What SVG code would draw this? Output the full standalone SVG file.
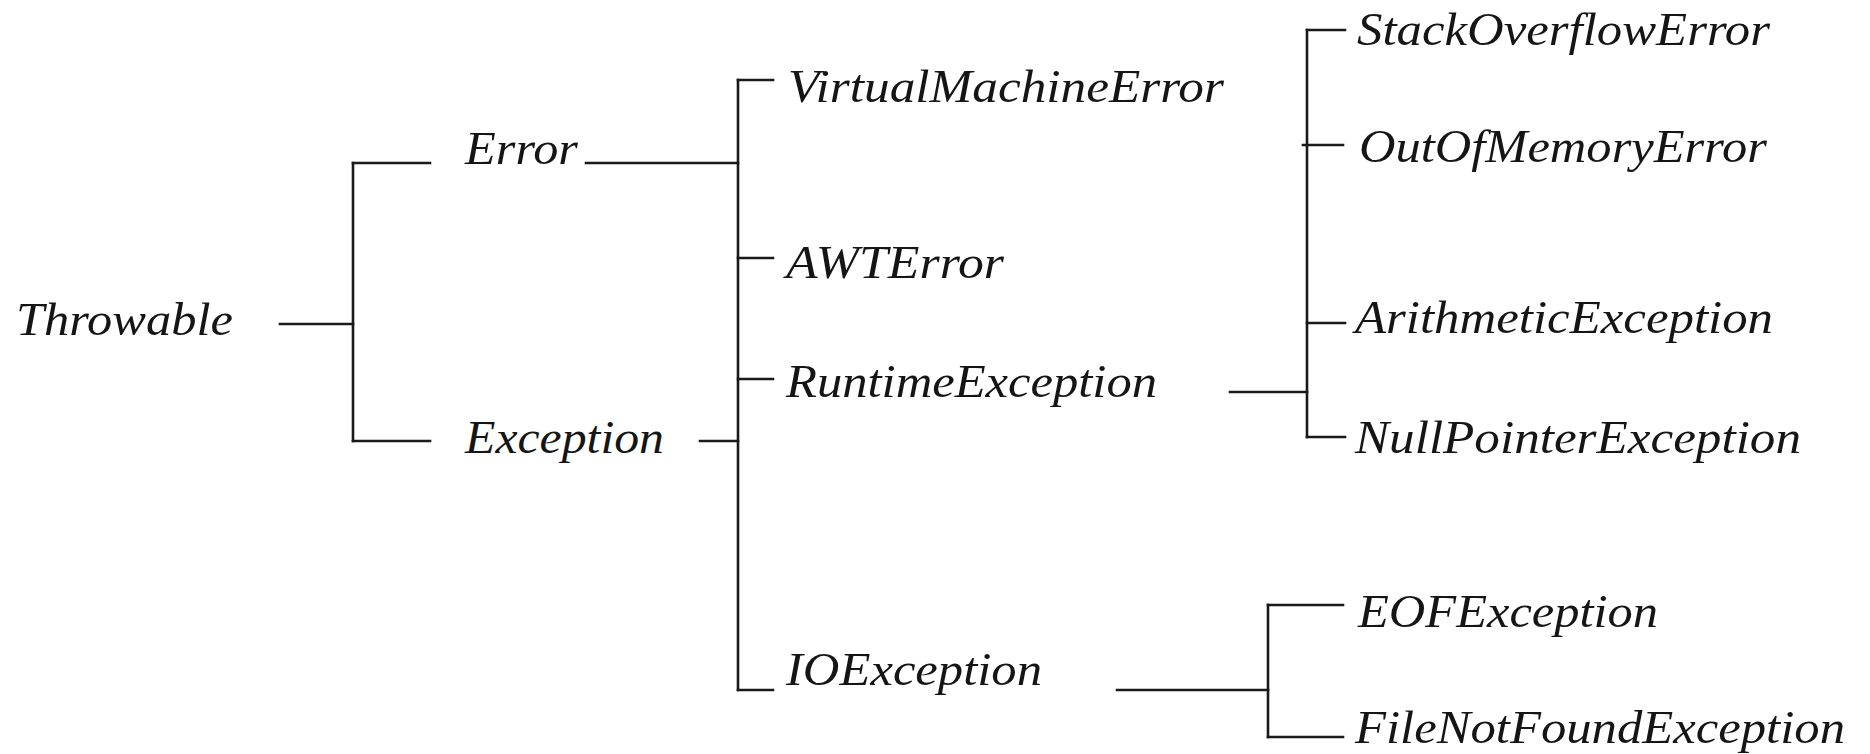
<svg xmlns="http://www.w3.org/2000/svg" width="1870" height="754" viewBox="0 0 1870 754">
<style>
.t{font-family:"Liberation Serif","Times New Roman",serif;font-style:italic;font-size:46px;fill:#151515;}
.c line{stroke:#1a1a1a;stroke-width:2.6;stroke-linecap:square;}
</style>
<rect width="1870" height="754" fill="#ffffff"/>
<g id="connectors" class="c">
<line x1="280" y1="324" x2="353" y2="324"/>
<line x1="353" y1="163" x2="353" y2="441"/>
<line x1="353" y1="163" x2="430" y2="163"/>
<line x1="353" y1="441" x2="430" y2="441"/>
<line x1="586" y1="163" x2="738" y2="163"/>
<line x1="700" y1="441" x2="738" y2="441"/>
<line x1="738" y1="80" x2="738" y2="690"/>
<line x1="738" y1="80" x2="773" y2="80"/>
<line x1="738" y1="258" x2="773" y2="258"/>
<line x1="738" y1="379" x2="773" y2="379"/>
<line x1="738" y1="690" x2="773" y2="690"/>
<line x1="1230" y1="392" x2="1307" y2="392"/>
<line x1="1307" y1="30" x2="1307" y2="437"/>
<line x1="1307" y1="30" x2="1345" y2="30"/>
<line x1="1303" y1="145" x2="1343" y2="145"/>
<line x1="1307" y1="323" x2="1345" y2="323"/>
<line x1="1307" y1="437" x2="1345" y2="437"/>
<line x1="1117" y1="690" x2="1268" y2="690"/>
<line x1="1268" y1="605" x2="1268" y2="737"/>
<line x1="1268" y1="605" x2="1343" y2="605"/>
<line x1="1268" y1="737" x2="1343" y2="737"/>
</g>
<g id="throwable"><text class="t" x="16" y="335" textLength="217" lengthAdjust="spacingAndGlyphs">Throwable</text></g>
<g id="error"><text class="t" x="465" y="164" textLength="113" lengthAdjust="spacingAndGlyphs">Error</text></g>
<g id="exception"><text class="t" x="465" y="453" textLength="199" lengthAdjust="spacingAndGlyphs">Exception</text></g>
<g id="virtualmachineerror"><text class="t" x="788" y="102" textLength="436" lengthAdjust="spacingAndGlyphs">VirtualMachineError</text></g>
<g id="awterror"><text class="t" x="786" y="278" textLength="218" lengthAdjust="spacingAndGlyphs">AWTError</text></g>
<g id="runtimeexception"><text class="t" x="786" y="397" textLength="371" lengthAdjust="spacingAndGlyphs">RuntimeException</text></g>
<g id="ioexception"><text class="t" x="786" y="685" textLength="256" lengthAdjust="spacingAndGlyphs">IOException</text></g>
<g id="stackoverflowerror"><text class="t" x="1357" y="45" textLength="413" lengthAdjust="spacingAndGlyphs">StackOverflowError</text></g>
<g id="outofmemoryerror"><text class="t" x="1359" y="162" textLength="408" lengthAdjust="spacingAndGlyphs">OutOfMemoryError</text></g>
<g id="arithmeticexception"><text class="t" x="1355" y="333" textLength="418" lengthAdjust="spacingAndGlyphs">ArithmeticException</text></g>
<g id="nullpointerexception"><text class="t" x="1355" y="453" textLength="446" lengthAdjust="spacingAndGlyphs">NullPointerException</text></g>
<g id="eofexception"><text class="t" x="1358" y="627" textLength="300" lengthAdjust="spacingAndGlyphs">EOFException</text></g>
<g id="filenotfoundexception"><text class="t" x="1355" y="743" textLength="490" lengthAdjust="spacingAndGlyphs">FileNotFoundException</text></g>
</svg>
